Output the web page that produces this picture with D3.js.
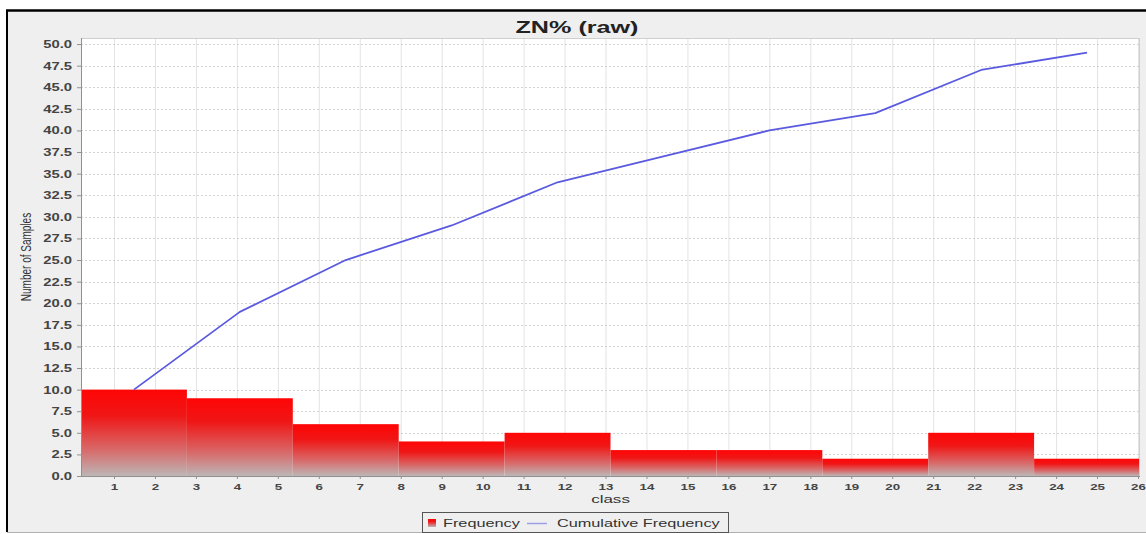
<!DOCTYPE html>
<html>
<head>
<meta charset="utf-8">
<script src="https://cdn.jsdelivr.net/npm/d3@7"></script>
<style>
  html, body { margin: 0; padding: 0; background: #ffffff; }
  svg { display: block; }
</style>
</head>
<body>
<script>
// ---------------- data ----------------
const chartTitle = "ZN% (raw)";
const classLabels = ["1","2","3","4","5","6","7","8","9","10","11","12","13",
                     "14","15","16","17","18","19","20","21","22","23","24","25","26"];
const binFrequency = [10, 9, 6, 4, 5, 3, 3, 2, 5, 2];
const cumulativeFrequency = [10, 19, 25, 29, 34, 37, 40, 42, 47, 49];
const yTickValues = [0, 2.5, 5, 7.5, 10, 12.5, 15, 17.5, 20, 22.5, 25, 27.5, 30,
                     32.5, 35, 37.5, 40, 42.5, 45, 47.5, 50];
const seriesNames = ["Frequency", "Cumulative Frequency"];

// ---------------- layout ----------------
const W = 1146, H = 534;
const plot = { left: 81, right: 1140, top: 38, bottom: 476 };
const S = 1.48; // horizontal stretch of text, as in the reference
const FONT = "'Liberation Sans', Arial, sans-serif";

const svg = d3.select("body").append("svg").attr("width", W).attr("height", H);

// background panel and frame
svg.append("rect").attr("x", 0).attr("y", 0).attr("width", W).attr("height", H).attr("fill", "#ffffff");
svg.append("rect").attr("x", 7).attr("y", 10).attr("width", W - 7).attr("height", 522).attr("fill", "#efefef");
svg.append("line").attr("x1", 6).attr("x2", W).attr("y1", 10.5).attr("y2", 10.5).attr("stroke", "#000").attr("stroke-width", 2.5);
svg.append("line").attr("x1", 7).attr("x2", 7).attr("y1", 10).attr("y2", 532).attr("stroke", "#000").attr("stroke-width", 2);
svg.append("line").attr("x1", 7).attr("x2", W).attr("y1", 532.5).attr("y2", 532.5).attr("stroke", "#b0b0b0").attr("stroke-width", 1);

function stext(parent, x, y, str, o = {}) {
  return parent.append("text")
    .attr("transform", `translate(${x},${y}) scale(${S},1)` + (o.rotate ? ` rotate(${o.rotate})` : ""))
    .attr("text-anchor", o.anchor || "start")
    .attr("font-family", FONT)
    .attr("font-size", o.size || 11)
    .attr("font-weight", o.weight || "normal")
    .attr("fill", o.fill || "#333")
    .text(str);
}

// ---------------- scales ----------------
const y = d3.scaleLinear().domain([0, 50.7]).range([plot.bottom, plot.top]);
const xb = d3.scaleLinear().domain([0, binFrequency.length]).range([plot.left, plot.right]);
const xc = d3.scalePoint().domain(classLabels).range([114, 1138]);

// plot background
svg.append("rect").attr("x", plot.left).attr("y", plot.top)
  .attr("width", plot.right - plot.left).attr("height", plot.bottom - plot.top)
  .attr("fill", "#ffffff");

// gridlines
const grid = svg.append("g");
grid.selectAll("line.v").data(classLabels).join("line")
  .attr("x1", d => xc(d) + 0.5).attr("x2", d => xc(d) + 0.5)
  .attr("y1", plot.top).attr("y2", plot.bottom)
  .attr("stroke", "#e3e3e3").attr("stroke-width", 1);
grid.selectAll("line.h").data(yTickValues.filter(v => v > 0)).join("line")
  .attr("x1", plot.left).attr("x2", plot.right)
  .attr("y1", d => Math.round(y(d)) + 0.5).attr("y2", d => Math.round(y(d)) + 0.5)
  .attr("stroke", "#d2d2d2").attr("stroke-width", 1).attr("stroke-dasharray", "2,2");

// gradient
const defs = svg.append("defs");
const grad = defs.append("linearGradient").attr("id", "barGrad")
  .attr("x1", 0).attr("y1", 0).attr("x2", 0).attr("y2", 1);
grad.append("stop").attr("offset", "0%").attr("stop-color", "#ff0505");
grad.append("stop").attr("offset", "30%").attr("stop-color", "#f01616");
grad.append("stop").attr("offset", "70%").attr("stop-color", "#d86a6a");
grad.append("stop").attr("offset", "100%").attr("stop-color", "#bdb6b6");

// bars
svg.append("g").selectAll("rect").data(binFrequency).join("rect")
  .attr("x", (d, i) => xb(i))
  .attr("width", (d, i) => xb(i + 1) - xb(i))
  .attr("y", d => y(d))
  .attr("height", d => y(0) - y(d))
  .attr("fill", "url(#barGrad)");

// plot border
svg.append("rect").attr("x", plot.left + 0.5).attr("y", plot.top + 0.5)
  .attr("width", plot.right - plot.left - 1).attr("height", plot.bottom - plot.top)
  .attr("fill", "none").attr("stroke", "#cfcfcf");

// cumulative line
const line = d3.line().x((d, i) => xb(i + 0.5)).y(d => y(d));
svg.append("path").datum(cumulativeFrequency)
  .attr("d", line).attr("fill", "none")
  .attr("stroke", "#5a5ae0").attr("stroke-width", 1.8).attr("stroke-linejoin", "round");

// y axis
const yAxis = svg.append("g").attr("transform", `translate(${plot.left},0)`)
  .call(d3.axisLeft(y).tickValues(yTickValues).tickFormat(d3.format(".1f")).tickSize(4).tickSizeOuter(0));
yAxis.select(".domain").attr("stroke", "#909090").attr("d", `M0.5,${plot.top}V${plot.bottom}`);
yAxis.selectAll(".tick line").attr("stroke", "#909090");
yAxis.selectAll(".tick text")
  .attr("x", null).attr("dy", "0.34em")
  .attr("transform", `translate(-9,0) scale(${S},1)`)
  .attr("font-family", FONT).attr("font-size", 10).attr("font-weight", "bold").attr("fill", "#444");

// x axis
const xAxis = svg.append("g").attr("transform", `translate(0,${plot.bottom})`)
  .call(d3.axisBottom(xc).tickSize(3).tickSizeOuter(0));
xAxis.select(".domain").attr("stroke", "#909090").attr("d", `M${plot.left},0.5H${plot.right}`);
xAxis.selectAll(".tick line").attr("stroke", "#909090");
xAxis.selectAll(".tick text")
  .attr("y", null).attr("dy", null)
  .attr("transform", `translate(0,13.5) scale(${S},1)`)
  .attr("font-family", FONT).attr("font-size", 9).attr("font-weight", "bold").attr("fill", "#444");

// titles
stext(svg, 577, 33, chartTitle, { anchor: "middle", size: 17, weight: "bold", fill: "#222" });
stext(svg, (plot.left + plot.right) / 2, 503, "class", { anchor: "middle", size: 11.5, fill: "#333" });
stext(svg, 31, (plot.top + plot.bottom) / 2, "Number of Samples", { anchor: "middle", size: 10, fill: "#333", rotate: -90 });

// legend
const lg = svg.append("g");
lg.append("rect").attr("x", 422.5).attr("y", 512.5).attr("width", 306).attr("height", 20)
  .attr("fill", "#efefef").attr("stroke", "#555").attr("stroke-width", 1);
lg.append("rect").attr("x", 428).attr("y", 519).attr("width", 8).attr("height", 8).attr("fill", "url(#barGrad)");
stext(lg, 443, 527, seriesNames[0], { size: 11, fill: "#333" });
lg.append("line").attr("x1", 527).attr("x2", 547).attr("y1", 523.5).attr("y2", 523.5)
  .attr("stroke", "#9d9de8").attr("stroke-width", 1.5);
stext(lg, 557, 527, seriesNames[1], { size: 11, fill: "#333" });
</script>
</body>
</html>
